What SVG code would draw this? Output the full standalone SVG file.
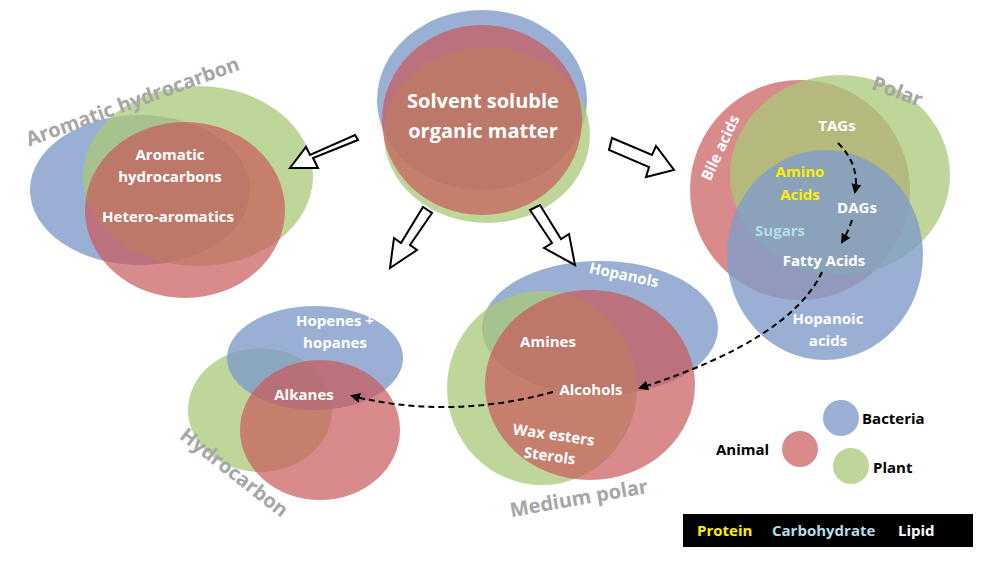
<svg xmlns="http://www.w3.org/2000/svg" width="1000" height="570" viewBox="0 0 1000 570">
<style>
.b{fill:#7f9cc9;fill-opacity:.8}
.r{fill:#c9585a;fill-opacity:.7}
.g{fill:#a9c878;fill-opacity:.75}
.t{font-family:"Open Sans","Liberation Sans",sans-serif;font-weight:bold;fill:#fff;text-anchor:middle;font-size:15px}
.big{font-size:20px}
.h{font-family:"Open Sans","Liberation Sans",sans-serif;font-weight:bold;fill:#a6a6a6;text-anchor:middle;font-size:20px}
.a{fill:#fff;stroke:#000;stroke-width:2}
.d{fill:none;stroke:#000;stroke-width:2;stroke-dasharray:6,4;marker-end:url(#m)}
.l{font-family:"Open Sans","Liberation Sans",sans-serif;font-weight:bold;font-size:15px;fill:#000}
</style>
<defs><marker id="m" viewBox="0 0 10 10" refX="8" refY="5" markerWidth="5" markerHeight="5" orient="auto"><path d="M0,0L10,5L0,10z" fill="#000"/></marker></defs>
<rect width="1000" height="570" fill="#fff"/>
<g id="center">
<ellipse class="b" cx="482" cy="100" rx="105" ry="90"/>
<ellipse class="g" cx="487" cy="135" rx="103" ry="88"/>
<ellipse class="r" cx="482" cy="120" rx="100" ry="95"/>
<text class="t big" x="483" y="108">Solvent soluble</text>
<text class="t big" x="483" y="138">organic matter</text>
</g>
<g id="aromatic">
<ellipse class="b" cx="140" cy="190" rx="110" ry="75"/>
<ellipse class="g" cx="198" cy="176" rx="115" ry="90"/>
<ellipse class="r" cx="185" cy="210" rx="100" ry="88"/>
<text class="h" x="135" y="108" transform="rotate(-20 135 108)">Aromatic hydrocarbon</text>
<text class="t" x="170" y="160">Aromatic</text>
<text class="t" x="170" y="182">hydrocarbons</text>
<text class="t" x="168" y="222">Hetero-aromatics</text>
</g>
<g id="polar">
<ellipse class="r" cx="800" cy="190" rx="110" ry="110"/>
<ellipse class="g" cx="840" cy="175" rx="110" ry="100"/>
<ellipse class="b" cx="825" cy="255" rx="98" ry="105"/>
<text class="h" x="895" y="98" transform="rotate(20 895 98)">Polar</text>
<text class="t" x="725" y="150" transform="rotate(-65 725 150)">Bile acids</text>
<text class="t" x="837" y="131">TAGs</text>
<text class="t" x="800" y="177" style="fill:#ffef00">Amino</text>
<text class="t" x="800" y="200" style="fill:#ffef00">Acids</text>
<text class="t" x="857" y="213">DAGs</text>
<text class="t" x="780" y="236" style="fill:#b7dde8">Sugars</text>
<text class="t" x="824" y="266">Fatty Acids</text>
<text class="t" x="828" y="324">Hopanoic</text>
<text class="t" x="828" y="346">acids</text>
</g>
<g id="hydrocarbon">
<ellipse class="g" cx="260" cy="410" rx="72" ry="62"/>
<ellipse class="b" cx="315" cy="358" rx="88" ry="52"/>
<ellipse class="r" cx="320" cy="430" rx="80" ry="70"/>
<text class="h" x="230" y="478" transform="rotate(38 230 478)">Hydrocarbon</text>
<text class="t" x="335" y="326">Hopenes +</text>
<text class="t" x="335" y="348">hopanes</text>
<text class="t" x="304" y="400">Alkanes</text>
</g>
<g id="medium">
<ellipse class="b" cx="600" cy="328" rx="118" ry="67"/>
<ellipse class="g" cx="542" cy="388" rx="95" ry="97"/>
<ellipse class="r" cx="590" cy="385" rx="105" ry="95"/>
<text class="h" x="580" y="505" transform="rotate(-10 580 505)">Medium polar</text>
<text class="t" x="623" y="280" transform="rotate(12 623 280)">Hopanols</text>
<text class="t" x="548" y="347">Amines</text>
<text class="t" x="591" y="395">Alcohols</text>
<text class="t" x="553" y="440" transform="rotate(8 553 440)">Wax esters</text>
<text class="t" x="549" y="461" transform="rotate(8 549 461)">Sterols</text>
</g>
<g id="connectors">
<path class="a" d="M358,140 L313,158 L318,168 L290,168 L306,147 L310,155 L355,135z"/>
<path class="a" d="M612,138 L652,155 L656,146 L674,170 L646,177 L649,167 L609,150z"/>
<path class="a" d="M432,213 L410,245 L417,250 L390,268 L394,238 L401,243 L423,207z"/>
<path class="a" d="M530,210 L552,243 L544,248 L575,265 L569,234 L561,239 L540,205z"/>
<path class="d" d="M838,143 Q860,165 855,192"/>
<path class="d" d="M852,220 Q848,232 842,242"/>
<path class="d" d="M822,272 Q790,340 640,388"/>
<path class="d" d="M553,392 Q450,420 352,396"/>
</g>
<g id="legend">
<circle class="b" cx="841" cy="418" r="18"/>
<circle class="r" cx="800" cy="449" r="18"/>
<circle class="g" cx="851" cy="466" r="18"/>
<text class="l" x="862" y="424">Bacteria</text>
<text class="l" x="716" y="455">Animal</text>
<text class="l" x="873" y="473">Plant</text>
<rect x="683" y="514" width="290" height="33" fill="#000"/>
<text class="l" x="697" y="536" style="fill:#ffef00">Protein</text>
<text class="l" x="772" y="536" style="fill:#b7dde8">Carbohydrate</text>
<text class="l" x="898" y="536" style="fill:#fff">Lipid</text>
</g>
</svg>
